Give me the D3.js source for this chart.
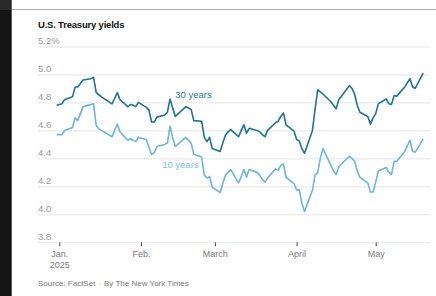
<!DOCTYPE html>
<html>
<head>
<meta charset="utf-8">
<script src="https://cdn.jsdelivr.net/npm/d3@7"></script>
<style>
  body { margin: 0; background: #fff; }
  svg { display: block; font-family: "Liberation Sans", Arial, sans-serif; }
</style>
</head>
<body>
<div id="chart"></div>
<script>
// Data
const dates = [
  "2024-12-31","2025-01-02","2025-01-03","2025-01-06","2025-01-07","2025-01-08","2025-01-10",
  "2025-01-13","2025-01-14","2025-01-15","2025-01-16","2025-01-17","2025-01-21","2025-01-22",
  "2025-01-23","2025-01-24","2025-01-27","2025-01-28","2025-01-29","2025-01-30","2025-01-31",
  "2025-02-03","2025-02-04","2025-02-05","2025-02-06","2025-02-07","2025-02-10","2025-02-11",
  "2025-02-12","2025-02-13","2025-02-14","2025-02-18","2025-02-19","2025-02-20","2025-02-21",
  "2025-02-24","2025-02-25","2025-02-26","2025-02-27","2025-02-28","2025-03-03","2025-03-04",
  "2025-03-05","2025-03-06","2025-03-07","2025-03-10","2025-03-11","2025-03-12","2025-03-13",
  "2025-03-14","2025-03-17","2025-03-18","2025-03-19","2025-03-20","2025-03-21","2025-03-24",
  "2025-03-25","2025-03-26","2025-03-27","2025-03-28","2025-03-31","2025-04-01","2025-04-02",
  "2025-04-03","2025-04-04","2025-04-07","2025-04-08","2025-04-09","2025-04-10","2025-04-11",
  "2025-04-14","2025-04-15","2025-04-16","2025-04-17","2025-04-21","2025-04-22","2025-04-23",
  "2025-04-24","2025-04-25","2025-04-28","2025-04-29","2025-04-30","2025-05-01","2025-05-02",
  "2025-05-05","2025-05-06","2025-05-07","2025-05-08","2025-05-09","2025-05-12","2025-05-13",
  "2025-05-14","2025-05-15","2025-05-16","2025-05-19"
];
const thirtyYear = [
  4.78,4.79,4.82,4.84,4.91,4.91,4.96,
  4.97,4.98,4.87,4.855,4.84,4.79,4.83,
  4.87,4.82,4.77,4.785,4.78,4.77,4.80,
  4.765,4.745,4.66,4.66,4.695,4.71,4.73,
  4.825,4.76,4.70,4.77,4.76,4.75,4.67,
  4.665,4.55,4.52,4.55,4.47,4.45,4.51,
  4.565,4.59,4.605,4.555,4.60,4.64,4.58,
  4.615,4.60,4.59,4.57,4.555,4.60,4.655,
  4.665,4.70,4.725,4.64,4.595,4.535,4.525,
  4.47,4.435,4.60,4.75,4.89,4.875,4.86,
  4.805,4.78,4.755,4.82,4.92,4.90,4.86,
  4.78,4.73,4.70,4.645,4.69,4.72,4.79,
  4.825,4.79,4.785,4.85,4.845,4.91,4.94,
  4.97,4.91,4.90,5.01
];
const tenYear = [
  4.57,4.57,4.60,4.62,4.69,4.67,4.77,
  4.785,4.79,4.635,4.61,4.60,4.555,4.60,
  4.645,4.59,4.53,4.54,4.53,4.52,4.55,
  4.535,4.48,4.43,4.44,4.485,4.50,4.51,
  4.63,4.55,4.485,4.55,4.53,4.51,4.43,
  4.41,4.28,4.26,4.27,4.195,4.155,4.22,
  4.28,4.30,4.32,4.225,4.27,4.32,4.265,
  4.32,4.30,4.28,4.25,4.23,4.26,4.325,
  4.315,4.35,4.36,4.265,4.22,4.175,4.175,
  4.08,4.02,4.17,4.28,4.30,4.40,4.47,
  4.35,4.31,4.285,4.34,4.415,4.40,4.38,
  4.31,4.265,4.225,4.16,4.16,4.23,4.31,
  4.335,4.30,4.285,4.38,4.38,4.45,4.49,
  4.53,4.45,4.445,4.54
];
const yTicks = [3.8, 4.0, 4.2, 4.4, 4.6, 4.8, 5.0, 5.2];
const yTickLabels = ["3.8", "4.0", "4.2", "4.4", "4.6", "4.8", "5.0", "5.2%"];
const monthTicks = ["2025-01-01", "2025-02-01", "2025-03-01", "2025-04-01", "2025-05-01"];
const monthLabels = ["Jan.", "Feb.", "March", "April", "May"];

const margin = {top: 46.5, right: 6, bottom: 53.7, left: 38};
const W = 436, H = 296;
const width = W - margin.left - margin.right;
const height = H - margin.top - margin.bottom;

const parse = d3.timeParse("%Y-%m-%d");

const svg = d3.select("#chart")
  .append("svg")
    .attr("width", W)
    .attr("height", H);

// page frame (dark left edge of the screenshot)
svg.append("rect").attr("width", W).attr("height", H).attr("fill", "#fff");
svg.append("rect").attr("x", 0).attr("y", 0).attr("width", 11).attr("height", H).attr("fill", "#141414");
svg.append("rect").attr("x", 0).attr("y", 0).attr("width", 11).attr("height", 10).attr("fill", "#2a2a2a");
svg.append("line").attr("x1", 11.5).attr("x2", 11.5).attr("y1", 0).attr("y2", H)
  .attr("stroke", "#5c5c5c");
svg.append("line").attr("x1", 12).attr("x2", W).attr("y1", 9.5).attr("y2", 9.5)
  .attr("stroke", "#a7b4a7");

const g = svg.append("g")
  .attr("transform", `translate(${margin.left},${margin.top})`);

const x = d3.scaleTime()
  .domain([parse("2025-01-01"), parse("2025-05-01")])
  .range([21.3, 337.7]);

const y = d3.scaleLinear()
  .domain([3.8, 5.2])
  .range([height, 0]);

// Gridlines + y labels
const yAxis = g.append("g")
  .call(d3.axisRight(y)
    .tickValues(yTicks)
    .tickSize(width)
    .tickFormat((d, i) => yTickLabels[i]));
yAxis.select(".domain").remove();
yAxis.selectAll(".tick line")
  .attr("stroke", "#e6e6e6");
yAxis.selectAll(".tick text")
  .attr("x", 0)
  .attr("dy", -3)
  .attr("text-anchor", "start")
  .attr("fill", "#9a9a9a")
  .style("font-size", "9.5px");

// X axis
const xAxis = g.append("g")
  .attr("transform", `translate(0,${height})`)
  .call(d3.axisBottom(x)
    .tickValues(monthTicks.map(parse))
    .tickSize(4)
    .tickFormat((d, i) => monthLabels[i]));
xAxis.select(".domain").remove();
xAxis.selectAll(".tick line").attr("stroke", "#444");
xAxis.selectAll(".tick text")
  .attr("y", 14.7)
  .attr("dy", 0)
  .attr("fill", "#7a7a7a")
  .style("font-size", "9px");
xAxis.select(".tick text")
  .append("tspan")
    .attr("x", 0)
    .attr("dy", 11)
    .text("2025");

// Lines
const series = [
  {name: "30 years", values: thirtyYear, color: "#1f7398", label: "#2b7ca1", lx: "2025-02-14", ly: 4.831},
  {name: "10 years", values: tenYear, color: "#6db5df", label: "#7cbde2", lx: "2025-02-09", ly: 4.329}
];

const line = d3.line()
  .x((d, i) => x(parse(dates[i])))
  .y(d => y(d));

series.forEach(s => {
  g.append("path")
    .datum(s.values)
    .attr("fill", "none")
    .attr("stroke", s.color)
    .attr("stroke-width", 1.6)
    .attr("stroke-linejoin", "round")
    .attr("d", line);

  g.append("text")
    .attr("x", x(parse(s.lx)))
    .attr("y", y(s.ly))
    .attr("fill", s.label)
    .style("font-size", "9.5px")
    .text(s.name);
});

// Title
svg.append("text")
  .attr("x", margin.left)
  .attr("y", 28)
  .attr("fill", "#121212")
  .style("font-size", "9.5px")
  .style("font-weight", "bold")
  .style("letter-spacing", "-0.2px")
  .text("U.S. Treasury yields");

// Source
const src = svg.append("text")
  .attr("x", margin.left)
  .attr("y", 286)
  .attr("fill", "#7a7a7a")
  .style("font-size", "8px");
src.append("tspan").text("Source: FactSet");
src.append("tspan").attr("dx", 3).attr("fill", "#c8c8c8").text("·");
src.append("tspan").attr("dx", 3).text("By The New York Times");
</script>
</body>
</html>
